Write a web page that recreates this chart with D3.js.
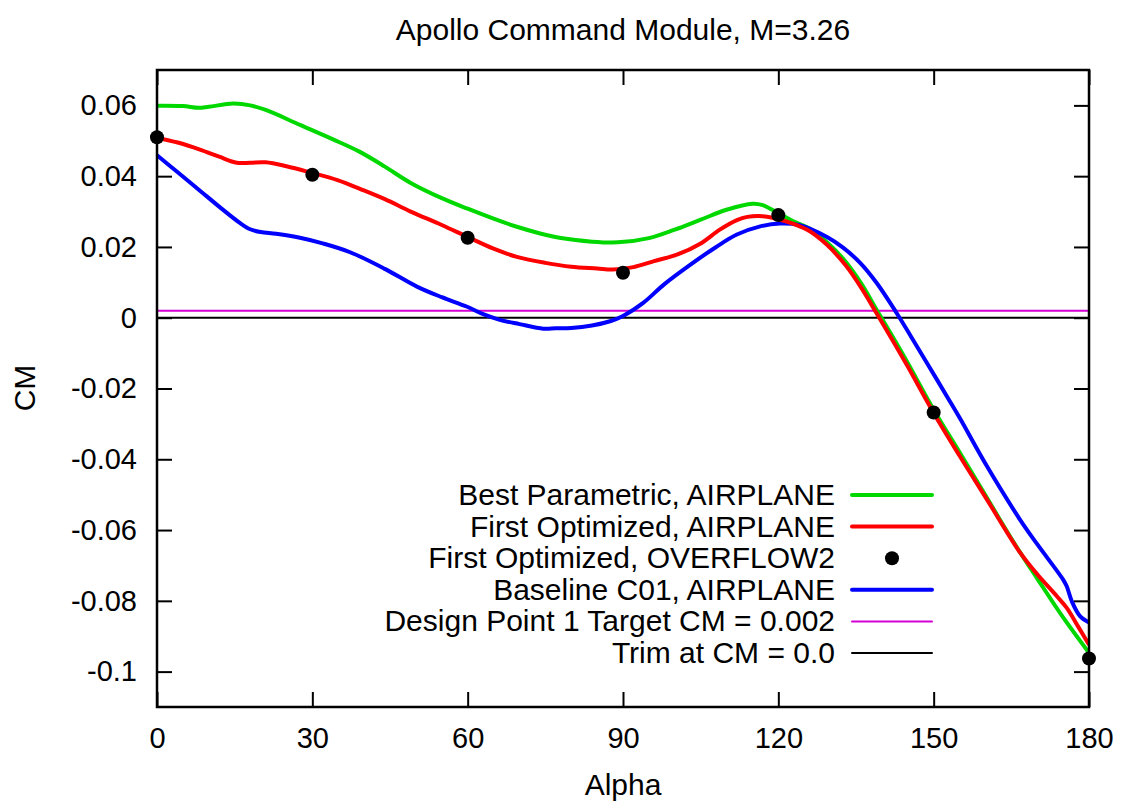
<!DOCTYPE html>
<html>
<head>
<meta charset="utf-8">
<script src="https://cdn.jsdelivr.net/npm/d3@7"></script>
<style>
  body { margin: 0; background: #fff; }
  text { font-family: "Liberation Sans", Arial, sans-serif; fill: #000; }
</style>
</head>
<body>
<div id="chart"></div>
<script>
// values
var bestAlpha = [0, 5, 8, 10, 14.7, 18, 21, 27.6, 34, 39, 44, 49, 55, 60, 65, 69.5, 74, 78, 84, 89, 95, 100, 105, 110, 115, 117, 120, 123, 126, 130, 133, 136, 139, 142, 145, 150, 155, 160, 165, 170, 175, 180];
var bestCM = [0.0599, 0.0598, 0.0593, 0.0596, 0.0605, 0.0600, 0.0587, 0.0545, 0.0504, 0.0470, 0.0427, 0.0381, 0.0338, 0.0308, 0.0280, 0.0257, 0.0238, 0.0225, 0.0215, 0.0213, 0.0225, 0.0249, 0.0277, 0.0305, 0.0322, 0.0318, 0.0295, 0.0272, 0.0252, 0.0205, 0.0158, 0.0097, 0.0022, -0.0052, -0.0128, -0.0260, -0.0380, -0.0502, -0.0624, -0.0737, -0.0847, -0.0947];

var optAlpha = [0, 4, 8.3, 12, 15.4, 18, 21, 25, 29.5, 35, 39.2, 44, 49, 55, 60, 65, 69.5, 75, 80, 85, 88, 92, 96, 100.4, 105, 108.7, 112, 114, 117, 119, 122.8, 126, 129.4, 133, 136, 139, 142, 145, 150, 155, 160.3, 166.7, 170, 173.8, 175.7, 178, 180];
var optCM = [0.0509, 0.0495, 0.0475, 0.0455, 0.0438, 0.0438, 0.0439, 0.0428, 0.0411, 0.0388, 0.0364, 0.0335, 0.0300, 0.0262, 0.0228, 0.0195, 0.0172, 0.0155, 0.0144, 0.0139, 0.0136, 0.0143, 0.0160, 0.0178, 0.0210, 0.0249, 0.0276, 0.0285, 0.0287, 0.0282, 0.0266, 0.0245, 0.0206, 0.0148, 0.0085, 0.0012, -0.0062, -0.0138, -0.0269, -0.0390, -0.0514, -0.0664, -0.0725, -0.0787, -0.0820, -0.0875, -0.0924];

var ovfAlpha = [0, 30, 60, 90, 120, 150, 180];
var ovfCM = [0.0510, 0.0404, 0.0226, 0.0127, 0.0290, -0.0268, -0.0963];

var baseAlpha = [0, 4, 8.3, 12, 16, 18, 20, 23, 27.6, 32, 37.3, 44, 50.2, 55, 59.9, 63, 66.2, 70, 74.6, 77, 80, 84, 87.5, 90, 93.9, 98, 103.5, 108, 112, 116.5, 120.3, 124, 129.4, 132.5, 135.8, 139, 142.9, 145.5, 148.7, 152.8, 155.1, 160.3, 166.7, 170, 175, 175.7, 176.7, 178.3, 180];
var baseCM = [0.0459, 0.0411, 0.0359, 0.0314, 0.0268, 0.0250, 0.0242, 0.0237, 0.0226, 0.0210, 0.0185, 0.0138, 0.0088, 0.0058, 0.0031, 0.0010, -0.0006, -0.0018, -0.0031, -0.0030, -0.0029, -0.0022, -0.0010, 0.0005, 0.0042, 0.0095, 0.0155, 0.0200, 0.0235, 0.0258, 0.0266, 0.0262, 0.0228, 0.0198, 0.0155, 0.0098, 0.0012, -0.0050, -0.0128, -0.0228, -0.0285, -0.0420, -0.0571, -0.0640, -0.0740, -0.0759, -0.0802, -0.0844, -0.0861];

var targetCM = 0.002;
var trimCM = 0.0;

var xTicks = [0, 30, 60, 90, 120, 150, 180];
var yTicks = [0.06, 0.04, 0.02, 0, -0.02, -0.04, -0.06, -0.08, -0.1];
var yTickLabels = ["0.06", "0.04", "0.02", "0", "-0.02", "-0.04", "-0.06", "-0.08", "-0.1"];

var legendNames = ["Best Parametric, AIRPLANE", "First Optimized, AIRPLANE", "First Optimized, OVERFLOW2", "Baseline C01, AIRPLANE", "Design Point 1 Target CM = 0.002", "Trim at CM = 0.0"];

var W = 1124, H = 805;
var margin = {top: 70, right: 35, bottom: 98, left: 157};
var pw = W - margin.left - margin.right;
var ph = H - margin.top - margin.bottom;

var svg = d3.select("#chart").append("svg")
  .attr("width", W)
  .attr("height", H);

var x = d3.scaleLinear().domain([0, 180]).range([0, pw]);
var y = d3.scaleLinear().domain([-0.11, 0.07]).range([ph, 0]);

var g = svg.append("g").attr("transform", "translate(" + margin.left + "," + margin.top + ")");

svg.append("defs").append("clipPath").attr("id", "clip")
  .append("rect").attr("width", pw).attr("height", ph);

// ticks, inside and mirrored like gnuplot
var tl = 15;
var axB = d3.axisBottom(x).tickValues(xTicks).tickSize(-tl).tickPadding(20).tickFormat(d3.format("d"));
var axT = d3.axisTop(x).tickValues(xTicks).tickSize(-tl).tickFormat("");
var axL = d3.axisLeft(y).tickValues(yTicks).tickSize(-tl).tickPadding(20).tickFormat(function(d, i) { return yTickLabels[i]; });
var axR = d3.axisRight(y).tickValues(yTicks).tickSize(-tl).tickFormat("");

g.append("g").attr("transform", "translate(0," + ph + ")").call(axB);
g.append("g").call(axT);
g.append("g").call(axL);
g.append("g").attr("transform", "translate(" + pw + ",0)").call(axR);

g.selectAll(".domain").remove();
g.selectAll(".tick line").attr("stroke", "#000").attr("stroke-width", 2);
g.selectAll(".tick text").style("font-size", "29px").attr("fill", "#000");

var plot = g.append("g").attr("clip-path", "url(#clip)");

// reference lines
plot.append("line")
  .attr("x1", 0).attr("x2", pw)
  .attr("y1", y(targetCM)).attr("y2", y(targetCM))
  .attr("stroke", "#d400d4").attr("stroke-width", 2);
plot.append("line")
  .attr("x1", 0).attr("x2", pw)
  .attr("y1", y(trimCM)).attr("y2", y(trimCM))
  .attr("stroke", "#000").attr("stroke-width", 2);

var line = d3.line()
  .x(function(d) { return x(d[0]); })
  .y(function(d) { return y(d[1]); })
  .curve(d3.curveCatmullRom.alpha(0.5));

function drawCurve(al, cm, col) {
  plot.append("path")
    .datum(d3.zip(al, cm))
    .attr("d", line)
    .attr("fill", "none")
    .attr("stroke", col)
    .attr("stroke-width", 4)
    .attr("stroke-linejoin", "round");
}

drawCurve(bestAlpha, bestCM, "#00d800");
drawCurve(baseAlpha, baseCM, "#0000ff");
drawCurve(optAlpha, optCM, "#ff0000");

// overflow points
g.selectAll("circle.ovf")
  .data(d3.zip(ovfAlpha, ovfCM))
  .enter().append("circle")
  .attr("class", "ovf")
  .attr("cx", function(d) { return x(d[0]); })
  .attr("cy", function(d) { return y(d[1]); })
  .attr("r", 7)
  .attr("fill", "#000");

// frame
g.append("rect")
  .attr("width", pw).attr("height", ph)
  .attr("fill", "none").attr("stroke", "#000").attr("stroke-width", 2.5);

// legend
var legStyles = [
  {col: "#00d800", w: 4, dot: false},
  {col: "#ff0000", w: 4, dot: false},
  {col: "#000", w: 0, dot: true},
  {col: "#0000ff", w: 4, dot: false},
  {col: "#d400d4", w: 2, dot: false},
  {col: "#000", w: 2, dot: false}
];
var leg = svg.append("g").attr("transform", "translate(0,495)");
legendNames.forEach(function(name, i) {
  var row = leg.append("g").attr("transform", "translate(0," + (i * 31.6) + ")");
  row.append("text")
    .attr("x", 835).attr("y", 10)
    .attr("text-anchor", "end")
    .style("font-size", "30px")
    .text(name);
  var s = legStyles[i];
  if (s.dot) {
    row.append("circle").attr("cx", 892).attr("cy", 0).attr("r", 7).attr("fill", s.col);
  } else {
    row.append("line")
      .attr("x1", 852).attr("x2", 932).attr("y1", 0).attr("y2", 0)
      .attr("stroke", s.col).attr("stroke-width", s.w).attr("stroke-linecap", "round");
  }
});

// titles
svg.append("text")
  .attr("x", margin.left + pw / 2).attr("y", 40)
  .attr("text-anchor", "middle")
  .style("font-size", "30px")
  .text("Apollo Command Module, M=3.26");

svg.append("text")
  .attr("x", margin.left + pw / 2).attr("y", 795)
  .attr("text-anchor", "middle")
  .style("font-size", "30px")
  .text("Alpha");

svg.append("text")
  .attr("transform", "translate(35,388) rotate(-90)")
  .attr("text-anchor", "middle")
  .style("font-size", "30px")
  .text("CM");
</script>
</body>
</html>
